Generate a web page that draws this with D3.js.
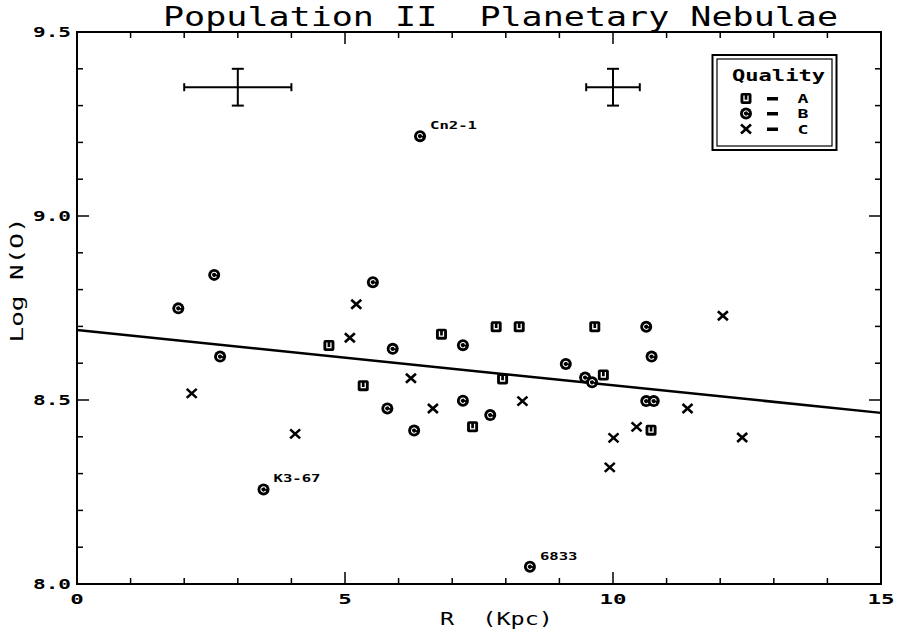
<!DOCTYPE html>
<html><head><meta charset="utf-8">
<script src="https://cdn.jsdelivr.net/npm/d3@7"></script>
<style>body{margin:0;background:#fff} text{white-space:pre}</style></head>
<body><svg id="c" width="898" height="630"></svg>
<script>
// Data
const qualityA_R = [4.70, 5.34, 6.80, 7.82, 8.25, 9.66, 7.94, 7.38, 9.82, 10.71];
const qualityA_logNO = [8.648, 8.539, 8.679, 8.699, 8.699, 8.699, 8.557, 8.427, 8.568, 8.418];
const qualityB_R = [1.89, 2.56, 2.67, 3.48, 5.52, 5.89, 5.79, 6.29, 6.40, 7.20, 7.20, 7.71, 8.45, 9.12, 9.48, 9.61, 10.62, 10.72, 10.62, 10.76];
const qualityB_logNO = [8.749, 8.84, 8.618, 8.257, 8.82, 8.639, 8.477, 8.417, 9.217, 8.649, 8.498, 8.459, 8.047, 8.598, 8.561, 8.548, 8.699, 8.618, 8.497, 8.497];
const qualityC_R = [2.14, 4.07, 5.21, 5.09, 6.23, 6.64, 8.31, 10.01, 9.94, 10.44, 11.39, 12.05, 12.41];
const qualityC_logNO = [8.518, 8.408, 8.76, 8.669, 8.559, 8.477, 8.497, 8.397, 8.317, 8.427, 8.477, 8.729, 8.398];
const namedLabels = ["Cn2-1", "K3-67", "6833"];
const namedIndexB = [8, 3, 12];
const fitR = [0, 15];
const fitLogNO = [8.69, 8.465];
const errorBarR = [3, 10];
const errorBarLogNO = [9.35, 9.35];
const errorBarDR = [1, 0.5];
const errorBarDLogNO = [0.05, 0.05];
const xTicks = [0, 5, 10, 15];
const yTicks = [8.0, 8.5, 9.0, 9.5];
const legendLabels = ["A", "B", "C"];

const svg = d3.select("#c");
const L = 77, R = 881, T = 32, B = 584;
const x = d3.scaleLinear().domain([0, 15]).range([L, R]);
const y = d3.scaleLinear().domain([8.0, 9.5]).range([B, T]);
const font = "'DejaVu Sans Mono', monospace";

function txt(parent, s, px, py, size, width, bold, anchor) {
  const t = parent.append("text").attr("x", px).attr("y", py)
    .attr("xml:space", "preserve")
    .attr("font-family", font).attr("font-size", size)
    .attr("font-weight", bold ? "bold" : "normal")
    .attr("text-anchor", anchor || "start")
    .attr("textLength", width).attr("lengthAdjust", "spacingAndGlyphs").text(s);
  return t;
}

// Frame
svg.append("rect").attr("x", L).attr("y", T).attr("width", R - L).attr("height", B - T)
  .attr("fill", "none").attr("stroke", "#000").attr("stroke-width", 2);

// Ticks (inward on all sides)
const g = svg.append("g").attr("stroke", "#000").attr("stroke-width", 1.5);
d3.range(0, 16, 1).forEach(v => {
  const len = v % 5 === 0 ? 12 : 6;
  g.append("line").attr("x1", x(v)).attr("x2", x(v)).attr("y1", B).attr("y2", B - len);
  g.append("line").attr("x1", x(v)).attr("x2", x(v)).attr("y1", T).attr("y2", T + len);
});
d3.range(0, 16, 1).forEach(i => {
  const v = 8 + i * 0.1;
  const len = i % 5 === 0 ? 12 : 6;
  g.append("line").attr("y1", y(v)).attr("y2", y(v)).attr("x1", L).attr("x2", L + len);
  g.append("line").attr("y1", y(v)).attr("y2", y(v)).attr("x1", R).attr("x2", R - len);
});

// Tick labels
xTicks.forEach(d => {
  const s = String(d);
  txt(svg, s, x(d), 604, 14, s.length * 13.5, true, "middle");
});
yTicks.forEach(d => {
  txt(svg, d.toFixed(1), 71, y(d) + 5, 14, 38, true, "end");
});

// Axis titles
txt(svg, "R  (Kpc)", 440, 625, 17, 113, false, "start");
txt(svg.append("g").attr("transform", "translate(23,280) rotate(-90)"), "Log N(O)", 0, 0, 17, 125, false, "middle");

// Title
txt(svg, "Population II  Planetary Nebulae", 163, 26, 26, 675, false, "start");

// Fit line
svg.append("line").attr("x1", x(fitR[0])).attr("y1", y(fitLogNO[0]))
  .attr("x2", x(fitR[1])).attr("y2", y(fitLogNO[1]))
  .attr("stroke", "#000").attr("stroke-width", 2.5);

// Error bars
errorBarR.forEach((r, i) => {
  const eg = svg.append("g").attr("stroke", "#000").attr("stroke-width", 2);
  const cy = y(errorBarLogNO[i]);
  const x0 = x(r - errorBarDR[i]), x1 = x(r + errorBarDR[i]);
  const y0 = y(errorBarLogNO[i] + errorBarDLogNO[i]), y1 = y(errorBarLogNO[i] - errorBarDLogNO[i]);
  eg.append("line").attr("x1", x0).attr("x2", x1).attr("y1", cy).attr("y2", cy);
  eg.append("line").attr("x1", x0).attr("x2", x0).attr("y1", cy - 4).attr("y2", cy + 4);
  eg.append("line").attr("x1", x1).attr("x2", x1).attr("y1", cy - 4).attr("y2", cy + 4);
  eg.append("line").attr("x1", x(r)).attr("x2", x(r)).attr("y1", y0).attr("y2", y1);
  eg.append("line").attr("x1", x(r) - 6).attr("x2", x(r) + 6).attr("y1", y0).attr("y2", y0);
  eg.append("line").attr("x1", x(r) - 6).attr("x2", x(r) + 6).attr("y1", y1).attr("y2", y1);
});

// Marker drawers
function drawSquare(sel, cx, cy) {
  const m = sel.append("g").attr("transform", `translate(${cx},${cy})`);
  m.append("rect").attr("x", -5.5).attr("y", -5.5).attr("width", 11).attr("height", 11).attr("rx", 2).attr("fill", "#000");
  m.append("path").attr("d", "M-2,-3 V2 H2 V-3").attr("fill", "none").attr("stroke", "#fff").attr("stroke-width", 1.3);
}
function drawCircle(sel, cx, cy) {
  const m = sel.append("g").attr("transform", `translate(${cx},${cy})`);
  m.append("circle").attr("r", 6).attr("fill", "#000");
  const arc = d3.arc().innerRadius(2).outerRadius(3.2).startAngle(0.6).endAngle(2 * Math.PI - 0.2);
  m.append("path").attr("d", arc()).attr("fill", "#fff").attr("transform", "rotate(90)");
}
function drawX(sel, cx, cy) {
  const m = sel.append("g").attr("transform", `translate(${cx},${cy})`).attr("stroke", "#000").attr("stroke-width", 2.6);
  m.append("line").attr("x1", -5).attr("y1", -4.5).attr("x2", 5).attr("y2", 4.5);
  m.append("line").attr("x1", -5).attr("y1", 4.5).attr("x2", 5).attr("y2", -4.5);
}

const pts = svg.append("g");
qualityA_R.forEach((r, i) => drawSquare(pts, x(r), y(qualityA_logNO[i])));
qualityB_R.forEach((r, i) => drawCircle(pts, x(r), y(qualityB_logNO[i])));
qualityC_R.forEach((r, i) => drawX(pts, x(r), y(qualityC_logNO[i])));

// Named labels
namedLabels.forEach((lab, k) => {
  const i = namedIndexB[k];
  txt(svg, lab, x(qualityB_R[i]) + 10, y(qualityB_logNO[i]) - 7, 11, lab.length * 9.4, true, "start");
});

// Legend
const lg = svg.append("g");
lg.append("rect").attr("x", 712.5).attr("y", 55).attr("width", 124).attr("height", 95)
  .attr("fill", "#fff").attr("stroke", "#000").attr("stroke-width", 2);
lg.append("rect").attr("x", 717).attr("y", 59).attr("width", 115).attr("height", 87)
  .attr("fill", "none").attr("stroke", "#000").attr("stroke-width", 1.2);
txt(lg, "Quality", 732, 81, 15, 93, true, "start");
const drawers = [drawSquare, drawCircle, drawX];
const legendY = [98.5, 113.5, 129];
legendLabels.forEach((lab, i) => {
  const cy = legendY[i];
  drawers[i](lg, 746, cy);
  lg.append("rect").attr("x", 767).attr("y", cy - 1.5).attr("width", 11).attr("height", 3.5).attr("fill", "#000");
  txt(lg, lab, 803, cy + 4.5, 12, 11, true, "middle");
});
</script></body></html>
